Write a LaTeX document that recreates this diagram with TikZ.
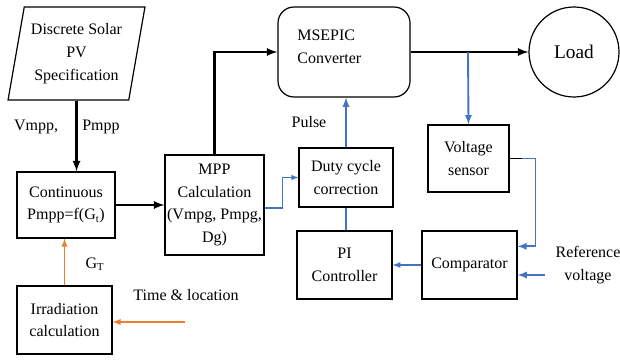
\documentclass[tikz,border=0pt]{standalone}
\usepackage{fontspec}
\setmainfont{Liberation Serif}
\usepackage{tikz}
\usetikzlibrary{arrows,positioning,shapes.geometric,calc}
\usepackage{xcolor}

\definecolor{sigblue}{RGB}{68,114,196}
\definecolor{sigorange}{RGB}{237,125,49}

\tikzset{
	blockbox/.style={draw, line width=0.9pt, align=center, inner sep=1.5pt,
		font=\fontsize{12}{17}\selectfont},
	mainflow/.style={line width=1.7pt, -latex},
	feedback/.style={sigblue, line width=1.4pt, -latex},
	irrflow/.style={sigorange, line width=1.1pt, -latex},
	lbl/.style={font=\fontsize{12}{17}\selectfont, align=center}
}

\begin{document}
\begin{tikzpicture}[x=0.75pt, y=-0.75pt]
	\useasboundingbox (0,0) rectangle (620,360);

	\node[blockbox, trapezium, trapezium left angle=77, trapezium right angle=103,
		trapezium stretches=true, minimum width=102.75pt, minimum height=69.75pt]
		(spec) at (76.5,53.5) {Discrete Solar\\PV\\Specification};
	\node[blockbox, minimum width=73.5pt, minimum height=49.5pt]
		(cont) at (66,205) {Continuous\\Pmpp=f(G\textsubscript{t})};
	\node[blockbox, minimum width=71.25pt, minimum height=51pt]
		(irr) at (64.5,320) {Irradiation\\calculation};
	\node[blockbox, minimum width=74.25pt, minimum height=75pt]
		(mpp) at (214.5,205) {MPP\\Calculation\\(Vmpg, Pmpg,\\Dg)};
	\node[blockbox, rounded corners=12pt, minimum width=99pt, minimum height=67.5pt,
		text width=70pt, align=left]
		(conv) at (344,52) {MSEPIC\\Converter\\[-9pt]\mbox{}};
	\node[blockbox, circle, minimum size=67.5pt, font=\fontsize{14.5}{17}\selectfont]
		(load) at (574,52) {Load};
	\node[blockbox, minimum width=70.5pt, minimum height=44.25pt]
		(duty) at (346,177.5) {Duty cycle\\correction};
	\node[blockbox, minimum width=71.25pt, minimum height=51pt]
		(pi) at (344.5,265) {PI\\Controller};
	\node[blockbox, minimum width=71.25pt, minimum height=51pt]
		(cmp) at (469.5,265) {Comparator};
	\node[blockbox, minimum width=60.75pt, minimum height=50.25pt]
		(vs) at (468.5,158.5) {Voltage\\sensor};

	\node[lbl] (vmpp) at (36,127) {Vmpp,};
	\node[lbl] (pmpp) at (101,127) {Pmpp};
	\node[lbl] (gt) at (95,264) {G\textsubscript{T}};
	\node[lbl] (tl) at (186,295) {Time \& location};
	\node[lbl] (pulse) at (309,122) {Pulse};
	\node[lbl] (ref) at (588,265) {Reference\\voltage};

	\coordinate (br) at (468,52);
	\coordinate (tlin) at (185,322);
	\coordinate (refin) at (545,275);

	\draw[mainflow] (spec.south) -- (spec.south |- cont.north);
	\draw[mainflow] (cont.east) -- (mpp.west);
	\draw[mainflow] (mpp.north) |- (conv.west);
	\draw[mainflow] (conv.east) -- (load.west);

	\draw[feedback] (br) -- (vs.north);
	\draw[line width=0.8pt] (vs.east) -- ++(12,0) coordinate (vsout);
	\draw[feedback, line width=1.3pt] (vsout) -- ++(14,0) |- ([yshift=14pt]cmp.east);
	\draw[feedback] (refin) -- (refin -| cmp.east);
	\draw[feedback, line width=1pt] (cmp.west) -- (pi.east);
	\draw[sigblue, line width=1.4pt] (duty.south) -- (duty.south |- pi.north);
	\draw[feedback] (duty.north) -- (duty.north |- conv.south);
	\draw[feedback, line width=0.8pt] ([yshift=-2.25pt]mpp.east) -- ++(18,0) |- (duty.west);

	\draw[irrflow] (irr.north) -- (irr.north |- cont.south);
	\draw[irrflow] (tlin) -- (tlin -| irr.east);
\end{tikzpicture}
\end{document}
